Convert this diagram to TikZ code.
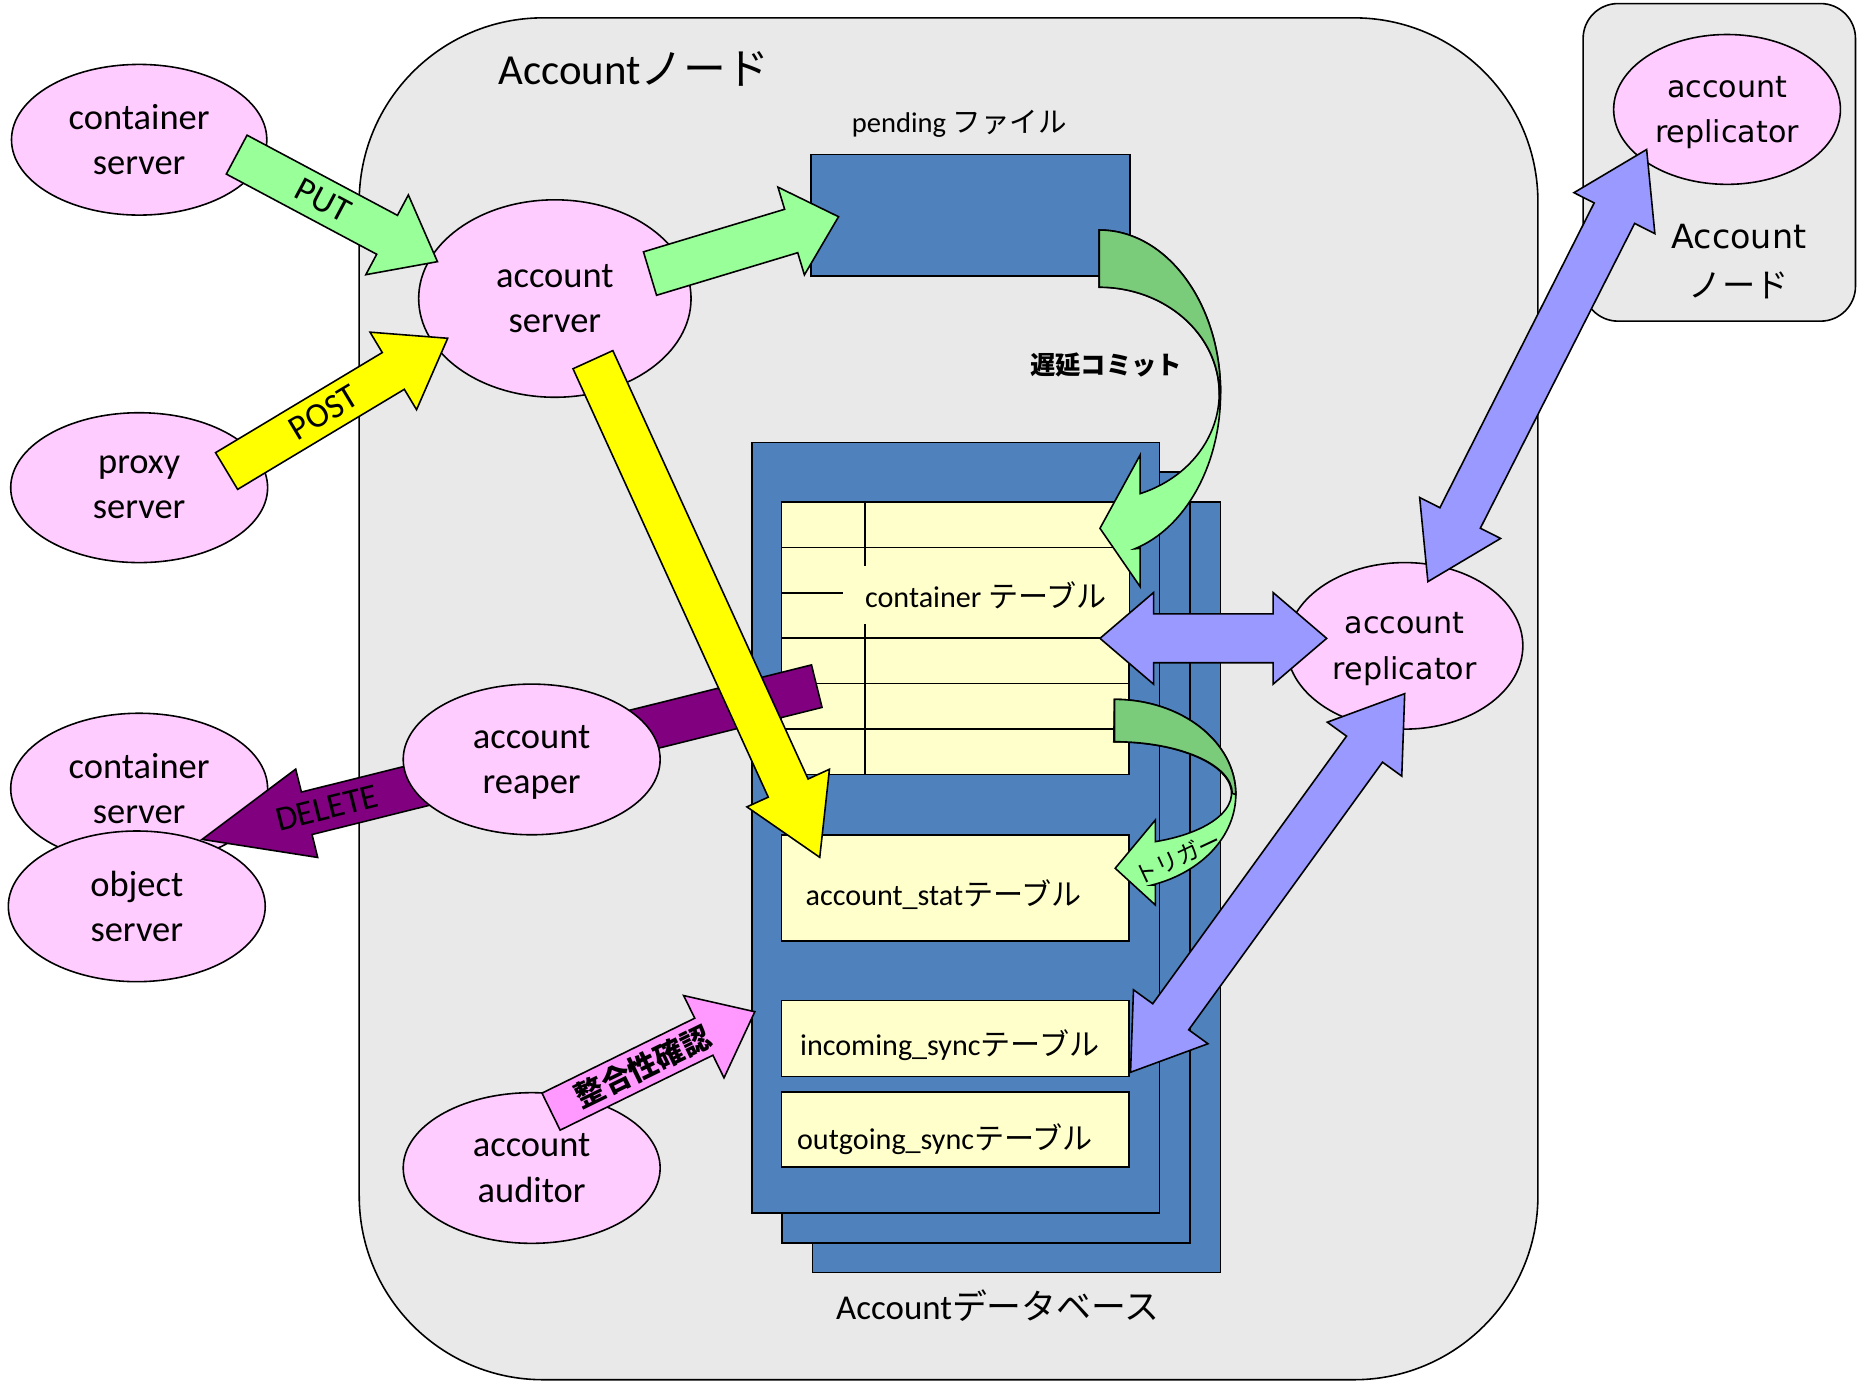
\documentclass[tikz,border=0pt]{standalone}
\usepackage{fontspec}
\setmainfont{Carlito}
\newfontfamily\jpfont{Noto Sans CJK JP}
\newfontfamily\vdfont{DejaVu Sans}
\usetikzlibrary{calc,shapes.geometric}

\definecolor{nodegray}{RGB}{233,233,233}
\definecolor{nodepink}{RGB}{255,204,255}
\definecolor{dbblue}{RGB}{79,129,189}
\definecolor{tabyellow}{RGB}{255,255,204}
\definecolor{lightgreen}{RGB}{153,255,153}
\definecolor{shadegreen}{RGB}{122,204,122}
\definecolor{postyellow}{RGB}{255,255,0}
\definecolor{delpurple}{RGB}{128,0,128}
\definecolor{chkpink}{RGB}{255,153,255}
\definecolor{syncblue}{RGB}{153,153,255}

\newcommand{\blockarrow}[6]{%
  \coordinate (ba-h) at ($(#3)!#6!(#2)$);
  \draw[#1] ($(#2)!#4!90:(#3)$) -- ($(ba-h)!#4!90:(#3)$) -- ($(ba-h)!#5!90:(#3)$) -- (#3)
    -- ($(ba-h)!#5!-90:(#3)$) -- ($(ba-h)!#4!-90:(#3)$) -- ($(#2)!#4!-90:(#3)$) -- cycle;
}
\newcommand{\dblarrow}[6]{%
  \coordinate (da-a) at ($(#2)!#6!(#3)$);
  \coordinate (da-b) at ($(#3)!#6!(#2)$);
  \draw[#1] (#2) -- ($(da-a)!#5!90:(#3)$) -- ($(da-a)!#4!90:(#3)$) -- ($(da-b)!#4!-90:(#2)$)
    -- ($(da-b)!#5!-90:(#2)$) -- (#3) -- ($(da-b)!#5!90:(#2)$) -- ($(da-b)!#4!90:(#2)$)
    -- ($(da-a)!#4!-90:(#3)$) -- ($(da-a)!#5!-90:(#3)$) -- cycle;
}

\begin{document}
\begin{tikzpicture}[x=0.75pt,y=0.75pt,yscale=-1,xscale=1,line width=1pt,
  srvnode/.style={ellipse,draw,fill=nodepink,inner sep=0pt,align=center,
    minimum width=162pt,minimum height=95pt,font=\fontsize{23}{28.5}\selectfont,
    execute at begin node=\vphantom{k}},
  replnode/.style={srvnode,font=\vdfont\fontsize{19}{28.5}\selectfont},
  dbbox/.style={draw,fill=dbblue},
  tabbox/.style={draw,fill=tabyellow},
  tablabel/.style={inner sep=0pt,font=\fontsize{19}{23}\selectfont},
  arrowlabel/.style={inner sep=0pt,font=\fontsize{22}{26}\selectfont},
  jplabel/.style={inner sep=0pt,font=\jpfont\bfseries\fontsize{#1}{#1}\selectfont}]
\useasboundingbox (0,0) rectangle (1568,1163);

\draw[fill=nodegray,rounded corners=116pt] (302,15) rectangle (1293,1160);
\draw[fill=nodegray,rounded corners=22pt] (1331,3) rectangle (1560,270);
\node[font=\fontsize{27}{32}\selectfont] (title) at (533,58) {Account{\jpfont ノード}};
\node[font=\vdfont\fontsize{21}{30.4}\selectfont,align=center] (remotelbl) at (1462,220) {Account\\{\jpfont ノード}};

\node[font=\fontsize{18}{22}\selectfont] (pendlbl) at (806.5,104) {pending {\jpfont ファイル}};
\draw[dbbox] (682,130) rectangle (950,232);

\foreach \i in {2,1,0}
  \draw[dbbox] ({632+25.5*\i},{372+25*\i}) rectangle ++(343,648);

\draw[tabbox] (657,422) rectangle (949,651);
\foreach \y in {460.2,498.4,536.6,574.8,613}
  \draw (657,\y) -- (949,\y);
\draw (727,422) -- (727,651);
\node[tablabel,fill=tabyellow,minimum width=180pt,minimum height=36.75pt] (ctab) at (829,500.5) {container {\jpfont テーブル}};
\draw[tabbox] (657,702) rectangle (949,791);
\node[tablabel] (stattab) at (793.5,752) {account\_stat{\jpfont テーブル}};
\draw[tabbox] (657,841) rectangle (949,905);
\node[tablabel] (intab) at (798.5,879) {incoming\_sync{\jpfont テーブル}};
\draw[tabbox] (657,918) rectangle (949,981);
\node[tablabel] (outtab) at (794.5,958) {outgoing\_sync{\jpfont テーブル}};
\node[font=\fontsize{22}{26}\selectfont] (dblbl) at (839,1098) {Account{\jpfont データベース}};

\node[srvnode,minimum width=161pt] (csrv1) at (117,117.5) {container\\server};
\node[srvnode,minimum height=94.5pt] (proxy) at (117,410) {proxy\\server};
\node[srvnode,minimum width=171.75pt,minimum height=124.5pt] (acsrv) at (466.5,251) {account\\server};
\node[srvnode] (csrv2) at (117,663) {container\\server};
\node[srvnode] (objsrv) at (115,762) {object\\server};
\node[srvnode] (auditor) at (447,982) {account\\auditor};
\node[replnode,minimum width=149pt,minimum height=105pt] (repl) at (1181,543) {account\\\smash{replicator}};
\node[replnode,minimum width=143pt,minimum height=94.5pt] (replr) at (1452,92) {account\\\smash{replicator}};

\coordinate (del-s) at (686.7,576.9);
\coordinate (del-e) at (169.9,705.7);
\blockarrow{fill=delpurple}{del-s}{del-e}{13.8pt}{28.7pt}{68pt}
\node[srvnode] (reaper) at (447,638.5) {account\\\smash{reaper}};

\coordinate (put-s) at (199,130);
\coordinate (put-e) at (367.8,220);
\blockarrow{fill=lightgreen}{put-s}{put-e}{13.9pt}{28.5pt}{36pt}
\coordinate (post-s) at (190.5,396);
\coordinate (post-e) at (376.4,284.4);
\blockarrow{fill=postyellow}{post-s}{post-e}{13.5pt}{28.5pt}{40pt}
\coordinate (pend-s) at (546.5,230);
\coordinate (pend-e) at (705,182.2);
\blockarrow{fill=lightgreen}{pend-s}{pend-e}{14.3pt}{28.9pt}{31.2pt}
\coordinate (stat-s) at (498.5,302.4);
\coordinate (stat-e) at (689.2,720.8);
\blockarrow{fill=postyellow}{stat-s}{stat-e}{13.8pt}{28.6pt}{48pt}
\coordinate (chk-s) at (463.3,934.6);
\coordinate (chk-e) at (634.6,850.6);
\blockarrow{fill=chkpink}{chk-s}{chk-e}{13pt}{28.9pt}{35.8pt}

\coordinate (rep-a) at (924.8,536.7);
\coordinate (rep-b) at (1115.4,536.7);
\dblarrow{fill=syncblue}{rep-a}{rep-b}{15.4pt}{28.9pt}{33.8pt}
\coordinate (rep-c) at (1200.5,489);
\coordinate (rep-d) at (1384.4,125.7);
\dblarrow{fill=syncblue}{rep-c}{rep-d}{14.3pt}{28.6pt}{45pt}
\coordinate (rep-e) at (950.5,901.5);
\coordinate (rep-f) at (1181,583.2);
\dblarrow{fill=syncblue}{rep-e}{rep-f}{14pt}{29pt}{43.2pt}

\draw[fill=lightgreen] (924.2,193.4) arc[start angle=-90,end angle=73,x radius=102,y radius=137]
  -- (958.6,461) -- (958.6,493.3) -- (924.8,444.2) -- (958.6,382.5) -- (958.6,415)
  arc[start angle=70,end angle=-90,x radius=101,y radius=89.5] -- cycle;
\draw[fill=shadegreen] (924.2,193.4) arc[start angle=-90,end angle=0,x radius=102,y radius=137]
  -- (1025.2,331) arc[start angle=0,end angle=-90,x radius=101,y radius=89.5] -- cycle;
\draw[fill=lightgreen] (937,588) arc[start angle=-90,end angle=72,x radius=102,y radius=80]
  -- (971.4,744.1) -- (971.4,760.9) -- (937.6,730) -- (971.4,689.4) -- (971.4,707.6)
  arc[start angle=69.3,end angle=-90,x radius=99,y radius=43.4] -- cycle;
\draw[fill=shadegreen] (937,588) arc[start angle=-90,end angle=0,x radius=102,y radius=80]
  -- (1036,667) arc[start angle=0,end angle=-90,x radius=99,y radius=43.4] -- cycle;

\node[arrowlabel,rotate=-28] (putlbl) at ($(put-s)!0.43!(put-e)$) {PUT};
\node[arrowlabel,rotate=31] (postlbl) at ($(post-s)!0.44!(post-e)$) {POST};
\node[arrowlabel,rotate=14] (dellbl) at ($(del-s)!0.797!(del-e)$) {DELETE};
\node[jplabel=18.5,rotate=26] (chklbl) at ($(chk-s)!0.45!(chk-e)$) {整合性確認};
\node[jplabel=16] (commitlbl) at (930,307) {遅延コミット};
\node[inner sep=0pt,font=\jpfont\fontsize{14.5}{14.5}\selectfont,rotate=25] (triglbl) at (990,721) {トリガー};
\end{tikzpicture}
\end{document}
